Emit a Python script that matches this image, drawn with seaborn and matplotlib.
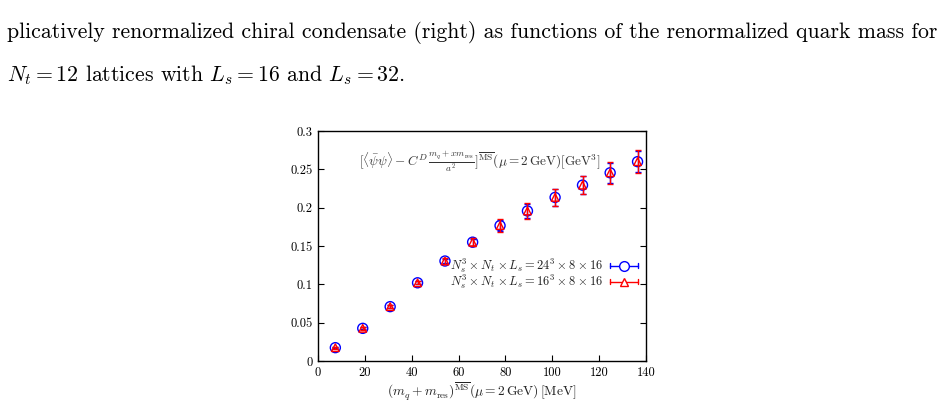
import matplotlib
matplotlib.use("Agg")
import matplotlib.pyplot as plt
import seaborn as sns
import pandas as pd

# ---- data ----
mass = [7.4, 19.1, 30.8, 42.5, 54.2, 66.0, 77.7, 89.4, 101.2, 112.9, 124.7, 136.4]
cond_24 = [0.0174, 0.0426, 0.0709, 0.1020, 0.1304, 0.1550, 0.1766, 0.1957, 0.2134, 0.2294, 0.2455, 0.2600]
err_24 = [0.0010, 0.0015, 0.0020, 0.0020, 0.0030, 0.0045, 0.0075, 0.0095, 0.0110, 0.0115, 0.0130, 0.0140]
cond_16 = [0.0174, 0.0426, 0.0709, 0.1020, 0.1304, 0.1550, 0.1766, 0.1957, 0.2134, 0.2294, 0.2455, 0.2600]
err_16 = [0.0012, 0.0017, 0.0022, 0.0022, 0.0035, 0.0050, 0.0082, 0.0100, 0.0115, 0.0122, 0.0140, 0.0150]
series_labels = [r"$N_s^3\times N_t\times L_s=24^3\times 8\times 16$",
                 r"$N_s^3\times N_t\times L_s=16^3\times 8\times 16$"]
xticks = [0, 20, 40, 60, 80, 100, 120, 140]
yticks = [0, 0.05, 0.1, 0.15, 0.2, 0.25, 0.3]
ytick_labels = ["0", "0.05", "0.1", "0.15", "0.2", "0.25", "0.3"]

sns.set_style("white")
plt.rcParams["mathtext.fontset"] = "cm"
plt.rcParams["font.family"] = ["cmr10", "DejaVu Serif"]
plt.rcParams["axes.formatter.use_mathtext"] = True

W, H = 944, 405
fig = plt.figure(figsize=(W / 100, H / 100), dpi=100)
l, r, t, b = 318, 646, 131, 361
ax = fig.add_axes([l / W, 1 - b / H, (r - l) / W, (b - t) / H])

df = pd.DataFrame({"m": mass, "c24": cond_24, "c16": cond_16})

blue = "#0000ff"
red = "#ff0000"

ax.errorbar(mass, cond_24, yerr=err_24, fmt="none", ecolor=blue, elinewidth=1.0,
            capsize=2.5, capthick=1.0, zorder=2)
sns.scatterplot(data=df, x="m", y="c24", ax=ax, marker="o", s=52,
                facecolor="none", edgecolor=blue, linewidth=1.0, zorder=3)
ax.errorbar(mass, cond_16, yerr=err_16, fmt="none", ecolor=red, elinewidth=1.0,
            capsize=2.5, capthick=1.0, zorder=4)
sns.scatterplot(data=df, x="m", y="c16", ax=ax, marker="^", s=30,
                facecolor="none", edgecolor=red, linewidth=1.0, zorder=5)

ax.set_xlim(0, 140)
ax.set_ylim(0, 0.3)
ax.set_xticks(xticks)
ax.set_xticklabels([str(v) for v in xticks])
ax.set_yticks(yticks)
ax.set_yticklabels(ytick_labels)
ax.tick_params(axis="both", direction="in", labelsize=9, length=4, width=0.8,
               colors="black", pad=4, left=True, right=True, bottom=True, top=False)
for s in ax.spines.values():
    s.set_color("black")
    s.set_linewidth(1.0)
ax.set_xlabel(r"$(m_q+m_{\rm res})^{\overline{\rm MS}}(\mu=2\,{\rm GeV})\,[{\rm MeV}]$",
              fontsize=9.7, labelpad=1, color="#222222")
ax.set_ylabel("")

ax.text(0.493, 0.865,
        r"$[\langle\bar{\psi}\psi\rangle-C^{D}\,\frac{m_q+xm_{\rm res}}{a^2}]^{\overline{\rm MS}}(\mu=2\,{\rm GeV})[{\rm GeV}^3]$",
        transform=ax.transAxes, ha="center", va="center", fontsize=9.5, color="#333333")

# gnuplot-style legend
leg_y = [(b - 265.7) / (b - t), (b - 281.7) / (b - t)]
x_txt = (603 - l) / (r - l)
x0 = (610 - l) / (r - l)
x1 = (638 - l) / (r - l)
xm = (x0 + x1) / 2
for lab, col, mk, yy in zip(series_labels, [blue, red], ["o", "^"], leg_y):
    ax.text(x_txt, yy, lab, transform=ax.transAxes, ha="right", va="center",
            fontsize=9, color="#222222")
    ax.plot([x0, x1], [yy, yy], color=col, lw=1.0, transform=ax.transAxes, clip_on=False)
    ax.plot([x0, x0], [yy - 0.012, yy + 0.012], color=col, lw=1.0, transform=ax.transAxes, clip_on=False)
    ax.plot([x1, x1], [yy - 0.012, yy + 0.012], color=col, lw=1.0, transform=ax.transAxes, clip_on=False)
    ax.plot([xm], [yy], marker=mk, ms=7 if mk == "o" else 6, mfc="white", mec=col, mew=1.0,
            transform=ax.transAxes, clip_on=False, linestyle="none")

# page text
fig.text(7 / W, 1 - 33 / H,
         "plicatively renormalized chiral condensate (right) as functions of the renormalized quark mass for",
         ha="left", va="center", fontsize=15.7, color="black")
fig.text(7 / W, 1 - 75 / H,
         r"$N_t = 12$ lattices with $L_s = 16$ and $L_s = 32$.",
         ha="left", va="center", fontsize=15.7, color="black")

fig.savefig("out.png", dpi=100, facecolor="white")
